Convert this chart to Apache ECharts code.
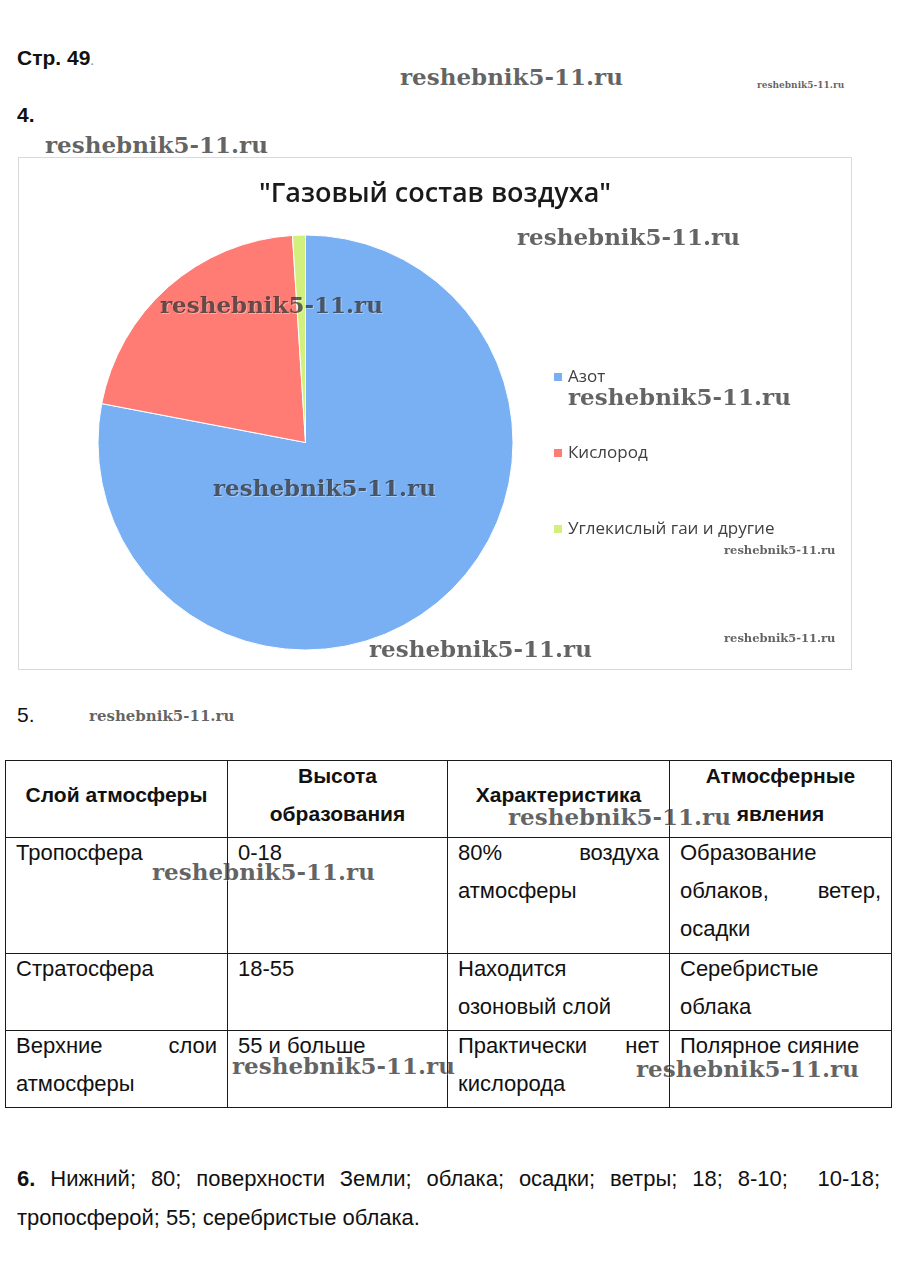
<!DOCTYPE html>
<html><head><meta charset="utf-8">
<script src="https://cdn.jsdelivr.net/npm/echarts@6/dist/echarts.min.js"></script>
<style>
html,body{margin:0;padding:0;background:#fff;}
#page{position:relative;width:904px;height:1273px;font-family:"Liberation Sans",Arial,sans-serif;color:#111;overflow:hidden;}
.t{position:absolute;font-size:21px;line-height:24px;white-space:nowrap;}
#chart{position:absolute;left:18px;top:157px;width:832px;height:511px;border:1px solid #d9d9d9;}
table{position:absolute;left:5px;top:760px;border-collapse:collapse;table-layout:fixed;width:886px;}
td{border:1px solid #1a1a1a;vertical-align:top;padding:0 10px;font-size:22px;line-height:38px;color:#111;overflow:hidden;}
td.h{font-weight:bold;text-align:center;vertical-align:middle;font-size:21px;}
td .c{position:relative;top:-4px;}
.j{text-align:justify;text-align-last:justify;}
.bl{position:absolute;left:17px;width:863px;font-size:22px;line-height:24px;}
.wm{position:absolute;z-index:5;font-family:"DejaVu Serif",serif;font-weight:bold;color:rgba(40,40,40,0.72);white-space:nowrap;line-height:1;text-shadow:1px 1px 0 rgba(255,255,255,0.35);pointer-events:none;}
</style>
</head><body>
<div id="page">
  <div class="t" style="left:17px;top:46px;font-weight:bold;">Стр. 49<span style="font-weight:normal;color:#888;font-size:14px;">.</span></div>
  <div class="t" style="left:17px;top:103px;font-weight:bold;">4.</div>
  <div id="chart"></div>
  <div class="t" style="left:17px;top:703px;">5.</div>

  <table>
    <colgroup><col style="width:222px"><col style="width:220px"><col style="width:222px"><col style="width:222px"></colgroup>
    <tr style="height:77px">
      <td class="h"><div class="c">Слой атмосферы</div></td>
      <td class="h"><div class="c">Высота<br>образования</div></td>
      <td class="h"><div class="c">Характеристика</div></td>
      <td class="h"><div class="c">Атмосферные<br>явления</div></td>
    </tr>
    <tr style="height:116px">
      <td><div class="c">Тропосфера</div></td>
      <td><div class="c">0-18</div></td>
      <td><div class="c"><div class="j">80% воздуха</div><div>атмосферы</div></div></td>
      <td><div class="c"><div>Образование</div><div class="j">облаков, ветер,</div><div>осадки</div></div></td>
    </tr>
    <tr style="height:77px">
      <td><div class="c">Стратосфера</div></td>
      <td><div class="c">18-55</div></td>
      <td><div class="c"><div>Находится</div><div>озоновый слой</div></div></td>
      <td><div class="c"><div>Серебристые</div><div>облака</div></div></td>
    </tr>
    <tr style="height:77px">
      <td><div class="c"><div class="j">Верхние слои</div><div>атмосферы</div></div></td>
      <td><div class="c">55 и больше</div></td>
      <td><div class="c"><div class="j">Практически нет</div><div>кислорода</div></div></td>
      <td><div class="c">Полярное сияние</div></td>
    </tr>
  </table>

  <div class="bl j" style="top:1167px;"><b>6.</b> Нижний; 80; поверхности Земли; облака; осадки; ветры; 18; 8-10;&nbsp; 10-18;</div>
  <div class="bl" style="top:1206px;">тропосферой; 55; серебристые облака.</div>

  <div class="wm" style="left:400px;top:65px;font-size:23px;">reshebnik5-11.ru</div>
  <div class="wm" style="left:757px;top:81px;font-size:9px;">reshebnik5-11.ru</div>
  <div class="wm" style="left:45px;top:133px;font-size:23px;">reshebnik5-11.ru</div>
  <div class="wm" style="left:517px;top:225px;font-size:23px;">reshebnik5-11.ru</div>
  <div class="wm" style="left:160px;top:293px;font-size:23px;">reshebnik5-11.ru</div>
  <div class="wm" style="left:568px;top:385px;font-size:23px;">reshebnik5-11.ru</div>
  <div class="wm" style="left:213px;top:476px;font-size:23px;">reshebnik5-11.ru</div>
  <div class="wm" style="left:724px;top:545px;font-size:11.5px;">reshebnik5-11.ru</div>
  <div class="wm" style="left:724px;top:633px;font-size:11.5px;">reshebnik5-11.ru</div>
  <div class="wm" style="left:369px;top:637px;font-size:23px;">reshebnik5-11.ru</div>
  <div class="wm" style="left:89px;top:709px;font-size:15px;">reshebnik5-11.ru</div>
  <div class="wm" style="left:508px;top:805px;font-size:23px;">reshebnik5-11.ru</div>
  <div class="wm" style="left:152px;top:860px;font-size:23px;">reshebnik5-11.ru</div>
  <div class="wm" style="left:232px;top:1054px;font-size:23px;">reshebnik5-11.ru</div>
  <div class="wm" style="left:636px;top:1057px;font-size:23px;">reshebnik5-11.ru</div>
</div>
<script>
const chartTitle = '"Газовый состав воздуха"';
const categories = ['Азот', 'Кислород', 'Углекислый гаи и другие'];
const values = [78, 21, 1];
const sliceColors = ['#79b0f4', '#ff7c75', '#d2f07e'];

const chart = echarts.init(document.getElementById('chart'), null, {renderer: 'canvas'});
chart.setOption({
  animation: false,
  color: sliceColors,
  title: {
    text: chartTitle,
    left: 'center',
    top: 18,
    textStyle: {fontFamily: 'Open Sans', fontSize: 27, fontWeight: 600, color: '#1a1a1a'}
  },
  legend: {
    orient: 'vertical',
    left: 528,
    top: 204,
    itemWidth: 10,
    itemHeight: 10,
    itemGap: 56,
    icon: 'rect',
    selectedMode: false,
    data: categories,
    textStyle: {fontFamily: 'Open Sans', fontSize: 17, color: '#404040', lineHeight: 20}
  },
  series: [{
    type: 'pie',
    center: [286.5, 284.5],
    radius: 207.5,
    startAngle: 90,
    clockwise: true,
    silent: true,
    label: {show: false},
    labelLine: {show: false},
    itemStyle: {borderColor: '#ffffff', borderWidth: 1},
    data: categories.map((name, i) => ({name: name, value: values[i]}))
  }]
});
</script>
</body></html>
